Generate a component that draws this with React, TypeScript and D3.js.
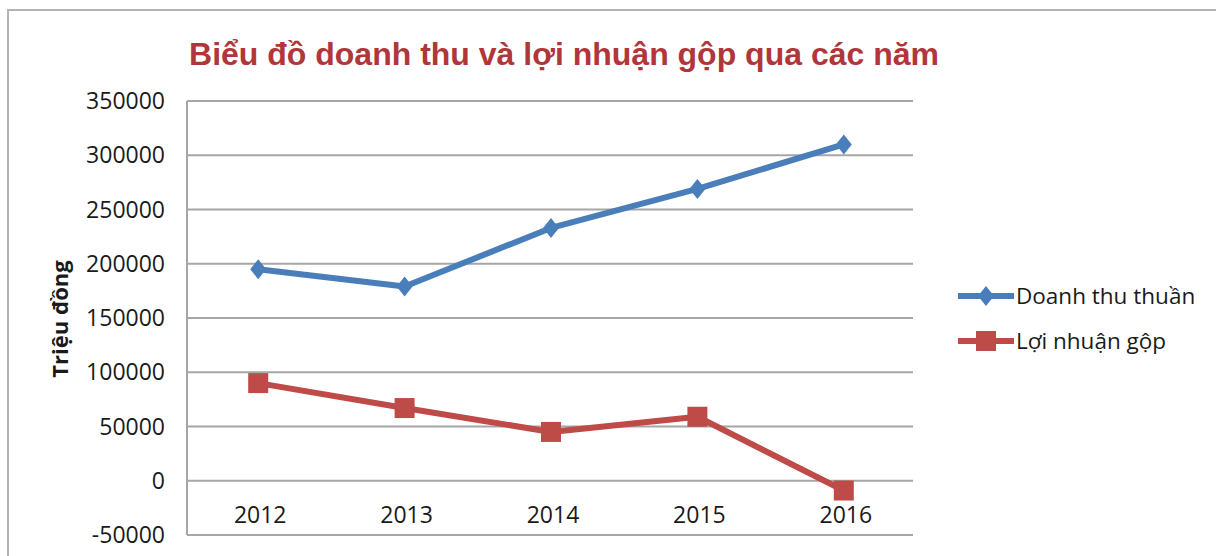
import React, { useEffect, useRef } from "react";
import * as d3 from "d3";

const years = ["2012", "2013", "2014", "2015", "2016"];
const doanhThu = [195000, 179000, 233000, 269000, 310000];
const loiNhuan = [90000, 67000, 45000, 59000, -9000];
const yTicks = [-50000, 0, 50000, 100000, 150000, 200000, 250000, 300000, 350000];
const seriesNames = ["Doanh thu thuần", "Lợi nhuận gộp"];

const W = 1216;
const H = 556;

const App = () => {
  const svgRef = useRef<SVGSVGElement>(null);

  useEffect(() => {
    const svg = d3.select(svgRef.current);
    svg.selectAll("*").remove();

    const font = "'Open Sans', 'Liberation Sans', sans-serif";
    const blue = "#4a7ebb";
    const red = "#be4b48";
    const gridColor = "#a6a6a6";
    const plotLeft = 187;
    const plotRight = 913;

    // chart frame
    svg.append("rect")
      .attr("x", 8).attr("y", 10)
      .attr("width", W + 20).attr("height", H + 20)
      .attr("fill", "white")
      .attr("stroke", "#b4b4b4").attr("stroke-width", 2);

    const x = d3.scaleBand().domain(years).range([185, 917]);
    const y = d3.scaleLinear().domain([-50000, 350000]).range([535, 101]);

    // gridlines
    svg.append("g")
      .selectAll("line")
      .data(yTicks)
      .enter()
      .append("line")
      .attr("x1", plotLeft).attr("x2", plotRight)
      .attr("y1", (d) => y(d)).attr("y2", (d) => y(d))
      .attr("stroke", gridColor).attr("stroke-width", 2);

    // vertical axis line
    svg.append("line")
      .attr("x1", plotLeft).attr("x2", plotLeft)
      .attr("y1", y(350000)).attr("y2", y(-50000))
      .attr("stroke", gridColor).attr("stroke-width", 2);

    // y tick labels
    svg.append("g")
      .selectAll("text")
      .data(yTicks)
      .enter()
      .append("text")
      .attr("x", 165)
      .attr("y", (d) => y(d) + 8)
      .attr("text-anchor", "end")
      .attr("font-family", font)
      .attr("font-size", 23)
      .attr("fill", "#1a1a1a")
      .text((d) => String(d));

    // x labels, sitting between the 0 and -50000 lines
    svg.append("g")
      .selectAll("text")
      .data(years)
      .enter()
      .append("text")
      .attr("x", (d) => x(d)! + x.bandwidth() / 2 + 2)
      .attr("y", y(0) + 42)
      .attr("text-anchor", "middle")
      .attr("font-family", font)
      .attr("font-size", 23)
      .attr("fill", "#1a1a1a")
      .text((d) => d);

    // y axis title
    svg.append("text")
      .attr("transform", `translate(68, 319) rotate(-90)`)
      .attr("text-anchor", "middle")
      .attr("font-family", font)
      .attr("font-weight", "bold")
      .attr("font-size", 22)
      .attr("fill", "#1a1a1a")
      .text("Triệu đồng");

    // title
    svg.append("text")
      .attr("x", 564)
      .attr("y", 65)
      .attr("text-anchor", "middle")
      .attr("font-family", "'Liberation Sans', Arial, sans-serif")
      .attr("font-weight", "bold")
      .attr("font-size", 32)
      .attr("fill", "#b0363a")
      .text("Biểu đồ doanh thu và lợi nhuận gộp qua các năm");

    const cx = (i: number) => x(years[i])! + x.bandwidth() / 2;
    const line = d3.line<number>().x((_, i) => cx(i)).y((d) => y(d));

    const diamond = (g: any, px: number, py: number, color: string) => {
      g.append("path")
        .attr("d", `M${px},${py - 10} L${px + 8},${py} L${px},${py + 10} L${px - 8},${py} Z`)
        .attr("fill", color);
    };
    const square = (g: any, px: number, py: number, color: string) => {
      g.append("rect")
        .attr("x", px - 10).attr("y", py - 10)
        .attr("width", 20).attr("height", 20)
        .attr("fill", color);
    };

    const series = [
      { name: seriesNames[0], values: doanhThu, color: blue, marker: diamond },
      { name: seriesNames[1], values: loiNhuan, color: red, marker: square },
    ];

    series.forEach((s) => {
      const g = svg.append("g");
      g.append("path")
        .attr("d", line(s.values))
        .attr("fill", "none")
        .attr("stroke", s.color)
        .attr("stroke-width", 6)
        .attr("stroke-linejoin", "round");
      s.values.forEach((v, i) => s.marker(g, cx(i), y(v), s.color));
    });

    // legend
    series.forEach((s, i) => {
      const ly = 296 + i * 45;
      const g = svg.append("g");
      g.append("line")
        .attr("x1", 958).attr("x2", 1014)
        .attr("y1", ly).attr("y2", ly)
        .attr("stroke", s.color).attr("stroke-width", 6);
      s.marker(g, 986, ly, s.color);
      g.append("text")
        .attr("x", 1016)
        .attr("y", ly + 8)
        .attr("font-family", font)
        .attr("font-size", 22.5)
        .attr("fill", "#1a1a1a")
        .text(s.name);
    });
  }, []);

  return (
    <div>
      <svg
        ref={svgRef}
        width={W}
        height={H}
        style={{ position: "absolute", left: 0, top: 0, background: "white" }}
      ></svg>
    </div>
  );
};

export default App;
